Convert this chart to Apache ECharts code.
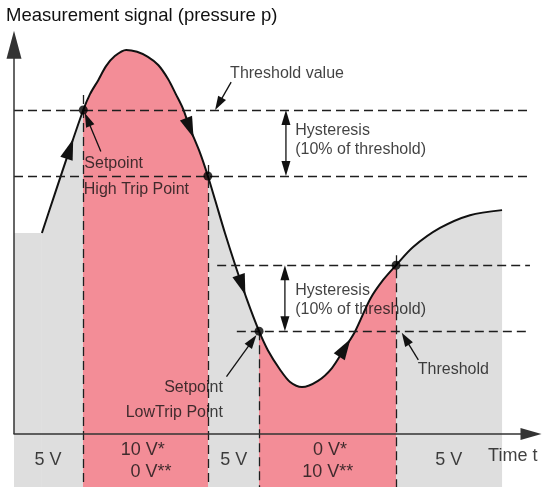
<!DOCTYPE html>
<html>
<head>
<meta charset="utf-8">
<script src="https://cdn.jsdelivr.net/npm/echarts@6/dist/echarts.min.js"></script>
<style>
  html, body { margin: 0; padding: 0; background: #fff; }
  #chart { width: 543px; height: 487px; }
</style>
</head>
<body>
<div id="chart"></div>
<script>
// Measurement signal (pressure) over time, arbitrary units: time 0..100, pressure 0..100
const curveT = [5.4, 7.9, 10.8, 13.4, 14.7, 16.3, 17.8, 19.5, 21.7, 23.8, 25.9, 27.9, 29.8, 31.3,
                32.7, 34.0, 36.0, 37.5, 38.9, 40.8, 42.8, 45.1, 47.4, 49.1, 51.5, 53.4, 55.7, 58.8,
                61.5, 64.0, 66.0, 68.9, 71.4, 73.9, 77.2, 82.4, 88.2, 94.4];
const curveP = [51.8, 61.9, 73.5, 83.5, 87.6, 91.2, 94.8, 97.4, 99.0, 98.5, 97.2, 95.1, 91.5, 87.6,
                83.8, 78.9, 72.4, 66.5, 60.3, 51.8, 43.5, 34.5, 26.5, 21.6, 16.5, 13.4, 12.1, 13.7,
                17.0, 22.2, 26.5, 34.8, 39.7, 43.5, 48.2, 53.1, 56.4, 57.7];

// Switching levels: upper pair (trip / reset) and lower pair (reset / trip)
const levelP      = [83.5, 66.5, 43.5, 26.5];
const levelStartT = [0, 0, 39.3, 43.1];
const levelEndT   = 99.8;

// Switching instants (setpoints reached) and their pressures
const tripT = [13.4, 37.5, 47.4, 73.9];
const tripP = [83.5, 66.5, 26.5, 43.5];
// top end of the vertical dashed marker through each switching instant
const tripLineTopP = [87.4, 69.3, 26.5, 46.1];

// Output state between switching instants: 0 = 5 V, 1 = switched
const stateEdges = [0, 13.4, 37.5, 47.4, 73.9, 100];
const stateKind  = [0, 1, 0, 1, 0];

// Direction arrows drawn on the curve: centre and the curve points giving the direction
const flowT   = [10.8, 34.0, 44.1, 64.0];
const flowP   = [73.5, 78.9, 38.4, 22.2];
const flowSeg = [[1, 3], [14, 16], [20, 21], [28, 30]];

// Pointer arrows for annotations: [fromT, fromP, tipT, tipP]
const pointerArrows = [
  [42.0, 90.7, 38.9, 83.5],
  [16.8, 72.8, 13.7, 82.7],
  [41.1, 14.8, 46.9, 25.5],
  [78.2, 19.1, 75.0, 26.1]
];
// Hysteresis span arrows (heads at both ends)
const spanArrows = [
  [52.6, 83.5, 52.6, 66.5],
  [52.4, 43.5, 52.4, 26.5]
];

// Annotation texts
const noteText  = ['Threshold value', 'Hysteresis', '(10% of threshold)', 'Setpoint', 'High Trip Point',
                   'Hysteresis', '(10% of threshold)', 'Setpoint', 'LowTrip Point', 'Threshold'];
const noteT     = [41.8, 54.4, 54.4, 13.6, 13.5, 54.4, 54.4, 40.4, 40.4, 78.1];
const noteP     = [92.9, 78.1, 73.2, 69.8, 63.1, 36.9, 32.0, 11.9, 5.4, 16.5];
const noteAlign = ['left', 'left', 'left', 'left', 'left', 'left', 'left', 'right', 'right', 'left'];

// Output voltage texts in the band below the time axis
const outText  = ['5 V', '10 V*', '0 V**', '5 V', '0 V*', '10 V**', '5 V', 'Time t'];
const outT     = [6.6, 24.9, 26.5, 42.5, 61.1, 60.7, 84.1, 91.7];
const outP     = [-6.7, -4.1, -9.7, -6.7, -4.1, -9.7, -6.7, -5.7];
const outAlign = ['center', 'center', 'center', 'center', 'center', 'center', 'center', 'left'];

const Y_MIN = -13.66;
const Y_MAX = 100;
const Y_ARROW_TIP = 103.9;

const GRAY = '#dedede';
const PINK = '#f38d97';
const INK = '#111111';
const AXIS = '#333333';
const FONT = '"Liberation Sans", Arial, Helvetica, sans-serif';

const curve = curveT.map((t, i) => [t, curveP[i]]);

// visual pieces colouring the fill according to the output state
const pieces = stateKind.map((k, i) => {
  const p = { color: k ? PINK : GRAY };
  if (i > 0) p.gte = stateEdges[i];
  if (i < stateKind.length - 1) p.lt = stateEdges[i + 1];
  return p;
});

function arrowRenderer(color, lineWidth, headLen, headWidth, doubleHead) {
  return function (params, api) {
    const a = api.coord([api.value(0), api.value(1)]);
    const b = api.coord([api.value(2), api.value(3)]);
    const dx = b[0] - a[0], dy = b[1] - a[1];
    const d = Math.hypot(dx, dy) || 1;
    const ux = dx / d, uy = dy / d;
    const head = (tip, sx, sy) => {
      const bx = tip[0] - sx * headLen, by = tip[1] - sy * headLen;
      return {
        type: 'polygon',
        shape: { points: [[tip[0], tip[1]],
                          [bx - sy * headWidth / 2, by + sx * headWidth / 2],
                          [bx + sy * headWidth / 2, by - sx * headWidth / 2]] },
        style: { fill: color }
      };
    };
    const s = doubleHead ? [a[0] + ux * headLen * 0.8, a[1] + uy * headLen * 0.8] : a;
    const e = [b[0] - ux * headLen * 0.8, b[1] - uy * headLen * 0.8];
    const children = [
      { type: 'line', shape: { x1: s[0], y1: s[1], x2: e[0], y2: e[1] },
        style: { stroke: color, lineWidth: lineWidth } },
      head(b, ux, uy)
    ];
    if (doubleHead) children.push(head(a, -ux, -uy));
    return { type: 'group', children: children };
  };
}

function flowRenderer(params, api) {
  const c = api.coord([api.value(0), api.value(1)]);
  const p1 = api.coord([api.value(2), api.value(3)]);
  const p2 = api.coord([api.value(4), api.value(5)]);
  const dx = p2[0] - p1[0], dy = p2[1] - p1[1];
  const d = Math.hypot(dx, dy) || 1;
  const ux = dx / d, uy = dy / d;
  const L = 21, W = 13;
  const tip = [c[0] + ux * L / 2, c[1] + uy * L / 2];
  const bx = c[0] - ux * L / 2, by = c[1] - uy * L / 2;
  return {
    type: 'polygon',
    shape: { points: [tip, [bx - uy * W / 2, by + ux * W / 2], [bx + uy * W / 2, by - ux * W / 2]] },
    style: { fill: INK }
  };
}

function textSeries(texts, ts, ps, aligns, size, z) {
  return {
    type: 'scatter',
    z: z,
    silent: true,
    symbolSize: 0,
    data: texts.map((txt, i) => ({
      value: [ts[i], ps[i]],
      label: { formatter: txt, align: aligns[i] }
    })),
    label: {
      show: true,
      position: 'inside',
      verticalAlign: 'middle',
      color: INK,
      fontSize: size,
      fontFamily: FONT
    }
  };
}

const dash = { color: '#1e1e1e', width: 1.3, type: [9, 5] };

const dashLines = [];
levelP.forEach((p, i) => {
  dashLines.push([{ coord: [levelStartT[i], p] }, { coord: [levelEndT, p] }]);
});
tripT.forEach((t, i) => {
  dashLines.push([{ coord: [t, tripLineTopP[i]] }, { coord: [t, Y_MIN] }]);
});

const chart = echarts.init(document.getElementById('chart'), null, { renderer: 'canvas' });

chart.setOption({
  animation: false,
  backgroundColor: '#ffffff',
  title: {
    text: 'Measurement signal (pressure p)',
    left: 1,
    top: 1,
    textStyle: { fontSize: 18.5, fontWeight: 'normal', color: INK, fontFamily: FONT }
  },
  grid: { left: 14, right: 12, top: 46, bottom: 0, containLabel: false },
  xAxis: {
    type: 'value',
    min: 0,
    max: 100,
    z: 5,
    axisLine: {
      show: true,
      onZero: true,
      symbol: ['none', 'triangle'],
      symbolSize: [12, 21],
      lineStyle: { color: AXIS, width: 1.5 }
    },
    axisTick: { show: false },
    axisLabel: { show: false },
    splitLine: { show: false }
  },
  yAxis: {
    type: 'value',
    min: Y_MIN,
    max: Y_MAX,
    axisLine: { show: false },
    axisTick: { show: false },
    axisLabel: { show: false },
    splitLine: { show: false }
  },
  visualMap: {
    show: false,
    type: 'piecewise',
    seriesIndex: 0,
    dimension: 0,
    pieces: pieces
  },
  series: [
    {
      // fill under the signal, coloured by output state, down to the band bottom
      type: 'line',
      z: 1,
      silent: true,
      data: curve,
      smooth: 0.3,
      showSymbol: false,
      lineStyle: { width: 0, opacity: 0 },
      areaStyle: { opacity: 1, origin: 'start' },
      markArea: {
        silent: true,
        itemStyle: { color: GRAY },
        data: [[{ coord: [0, Y_MIN] }, { coord: [curveT[0], curveP[0]] }]]
      }
    },
    {
      // dashed level lines and switching markers
      type: 'line',
      z: 2,
      silent: true,
      data: [],
      markLine: {
        silent: true,
        symbol: ['none', 'none'],
        label: { show: false },
        lineStyle: dash,
        emphasis: { disabled: true },
        data: dashLines
      }
    },
    {
      // the signal curve
      type: 'line',
      z: 3,
      silent: true,
      data: curve,
      smooth: 0.3,
      showSymbol: false,
      lineStyle: { color: INK, width: 2 }
    },
    {
      // vertical axis with arrow head
      type: 'custom',
      z: 6,
      silent: true,
      renderItem: arrowRenderer(AXIS, 1.5, 28, 15, false),
      data: [[0, 0, 0, Y_ARROW_TIP]]
    },
    {
      type: 'custom',
      z: 4,
      silent: true,
      renderItem: arrowRenderer(INK, 1.3, 14, 9, false),
      data: pointerArrows
    },
    {
      type: 'custom',
      z: 4,
      silent: true,
      renderItem: arrowRenderer(INK, 1.3, 15, 9, true),
      data: spanArrows
    },
    {
      type: 'custom',
      z: 5,
      silent: true,
      renderItem: flowRenderer,
      data: flowT.map((t, i) => [t, flowP[i],
        curveT[flowSeg[i][0]], curveP[flowSeg[i][0]],
        curveT[flowSeg[i][1]], curveP[flowSeg[i][1]]])
    },
    {
      // setpoints
      type: 'scatter',
      z: 6,
      silent: true,
      symbol: 'circle',
      symbolSize: 9,
      itemStyle: { color: '#000' },
      data: tripT.map((t, i) => [t, tripP[i]])
    },
    textSeries(noteText, noteT, noteP, noteAlign, 16, 7),
    textSeries(outText, outT, outP, outAlign, 18, 7)
  ]
});
</script>
</body>
</html>
